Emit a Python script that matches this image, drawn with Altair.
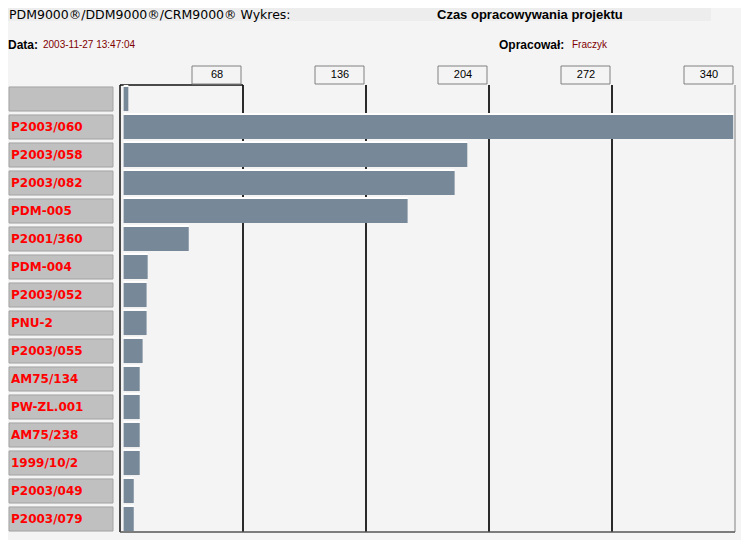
import altair as alt
import pandas as pd

# ---- data ----
projects = [" ", "P2003/060", "P2003/058", "P2003/082", "PDM-005", "P2001/360",
            "PDM-004", "P2003/052", "PNU-2", "P2003/055", "AM75/134", "PW-ZL.001",
            "AM75/238", "1999/10/2", "P2003/049", "P2003/079"]
hours = [4.6, 339, 192, 185, 159, 38, 15.3, 14.7, 14.7, 12.5, 10.9, 10.9,
         10.9, 10.9, 7.6, 7.6]
ticks = [68, 136, 204, 272, 340]

header_left = "PDM9000®/DDM9000®/CRM9000® Wykres:"
header_title = "Czas opracowywania projektu"
date_label = "Data:"
date_value = "2003-11-27 13:47:04"
author_label = "Opracował:"
author_value = "Fraczyk"

df = pd.DataFrame({"project": projects, "hours": hours})
tdf = pd.DataFrame({"tick": ticks})
one = pd.DataFrame({"a": [0]})

BG = "#f4f4f4"
xs = alt.Scale(domain=[0, 340], range=[112, 727], nice=False, zero=False)
ys = alt.Scale(domain=projects, range=[77, 525], paddingInner=0.14, paddingOuter=0.07)

def X(f):
    return alt.X(f, type="quantitative", scale=xs, axis=None)

Y = alt.Y("project:N", scale=ys, axis=None, sort=None)

# header strip
strip = alt.Chart(one).mark_rect(color="#ededed").encode(
    x=alt.value(-8), x2=alt.value(703), y=alt.value(-8), y2=alt.value(13))

def txt(text, x, y, size, bold=False, color="black", font="Liberation Sans"):
    return alt.Chart(one).mark_text(
        text=text, align="left", baseline="middle", fontSize=size,
        fontWeight="bold" if bold else "normal", color=color, font=font
    ).encode(x=alt.value(x), y=alt.value(y))

headers = [
    txt(header_left, 1, 7, 12.5, font="DejaVu Sans"),
    txt(header_title, 429, 7, 13, bold=True),
    txt(date_label, 0, 37, 12, bold=True),
    txt(date_value, 35, 37, 10, color="#800000"),
    txt(author_label, 491, 37, 12, bold=True),
    txt(author_value, 564, 37, 10, color="#800000"),
]

base_t = alt.Chart(tdf)
grid = base_t.mark_rule(color="#2a2a2a", strokeWidth=2).encode(
    x=X("tick"), y=alt.value(77), y2=alt.value(524)
).transform_filter(alt.datum.tick < 340)
right_edge = base_t.mark_rule(color="#808080", strokeWidth=1).encode(
    x=X("tick"), y=alt.value(77), y2=alt.value(524)
).transform_filter(alt.datum.tick == 340)

left_edge = alt.Chart(one).transform_calculate(s="0").mark_rule(color="#111", strokeWidth=1.5).encode(
    x=X("s:Q"), y=alt.value(77), y2=alt.value(524))
bottom_edge = alt.Chart(one).transform_calculate(s="0", e="340").mark_rule(color="#555", strokeWidth=1.5).encode(
    x=X("s:Q"), x2="e:Q", y=alt.value(524))
top_edge = alt.Chart(one).transform_calculate(s="0", e="68").mark_rule(color="#111", strokeWidth=1.5).encode(
    x=X("s:Q"), x2="e:Q", y=alt.value(77))

tick_box = base_t.mark_rect(fill=BG, stroke="#808080", strokeWidth=1,
                            xOffset=-51, x2Offset=-2).encode(
    x=X("tick"), x2="tick", y=alt.value(58), y2=alt.value(76))
tick_txt = base_t.mark_text(dx=-26, baseline="middle", align="center",
                            fontSize=11, font="Liberation Sans", color="black").encode(
    x=X("tick"), y=alt.value(67), text="tick:Q")

base = alt.Chart(df).transform_calculate(start="2")
label_box = base.mark_rect(fill="#c0c0c0", stroke="#a4a4a4", strokeWidth=1).encode(
    x=alt.value(1), x2=alt.value(105), y=Y)
label_txt = base.mark_text(align="left", baseline="middle", fontSize=12,
                           fontWeight="bold", color="#ff0000", font="DejaVu Sans").encode(
    x=alt.value(3), y=Y, text="project:N")

bars = base.mark_bar(color="#778899").encode(
    x=X("hours"), x2="start:Q", y=Y)
highlight = base.mark_rule(color="white", strokeWidth=2, yOffset=-1).encode(
    x=X("hours"), x2="start:Q",
    y=alt.Y("project:N", scale=ys, axis=None, sort=None, bandPosition=0))

chart = alt.layer(
    strip, *headers, grid, right_edge, left_edge, bottom_edge, top_edge,
    tick_box, tick_txt, label_box, label_txt, highlight, bars
).properties(
    width=733, height=532, autosize=alt.AutoSizeParams(type="none"),
    padding=0, background=BG
).configure_view(stroke=None)

chart.save("out.html", embed_options={"renderer": "svg", "actions": False})
